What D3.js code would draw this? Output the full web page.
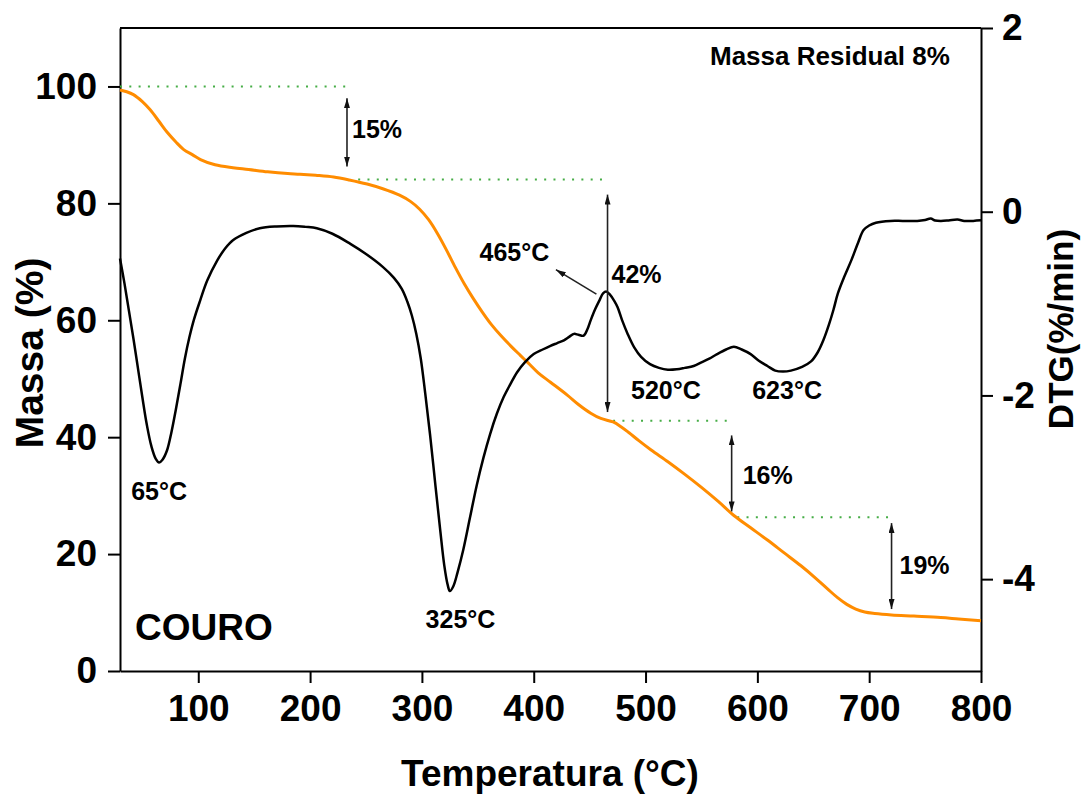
<!DOCTYPE html>
<html>
<head>
<meta charset="utf-8">
<script src="https://cdn.jsdelivr.net/npm/d3@7"></script>
<style>
  html, body { margin: 0; padding: 0; background: #fff; }
  svg { display: block; font-family: "Liberation Sans", Arial, Helvetica, sans-serif; font-weight: bold; }
</style>
</head>
<body>
<svg id="chart" width="1090" height="794"></svg>
<script>
// ---- data -------------------------------------------------------------
const temperatureTicks = [100, 200, 300, 400, 500, 600, 700, 800];
const massTicks = [0, 20, 40, 60, 80, 100];
const dtgTicks = [-4, -2, 0, 2];

// TGA curve: [temperature °C, mass %]
const tgaCurve = [
  [30, 99.4], [36, 99.1], [42, 98.6], [50, 97.4], [57, 96.0], [65, 94.0], [72, 92.2],
  [80, 90.5], [87, 89.2], [95, 88.3], [102, 87.5], [115, 86.6], [131, 86.1], [145, 85.8],
  [162, 85.4], [180, 85.1], [191, 85.0], [205, 84.8], [221, 84.5], [235, 84.0], [251, 83.3],
  [265, 82.5], [280, 81.4], [290, 80.3], [298, 79.0], [306, 77.2], [314, 74.8], [322, 72.0],
  [330, 69.0], [338, 66.2], [346, 63.7], [354, 61.4], [362, 59.3], [371, 57.3], [380, 55.5],
  [388, 54.0], [395, 52.7], [404, 51.0], [415, 49.4], [430, 47.2], [440, 45.6], [451, 44.1],
  [460, 43.2], [471, 42.6], [478, 41.8], [485, 40.8], [494, 39.4], [505, 37.8], [520, 35.8],
  [534, 33.8], [550, 31.4], [565, 29.0], [579, 26.6], [594, 24.5], [609, 22.4], [624, 20.2],
  [639, 18.0], [652, 15.9], [663, 14.0], [672, 12.5], [680, 11.4], [688, 10.6], [696, 10.1],
  [705, 9.85], [720, 9.6], [740, 9.4], [764, 9.15], [780, 8.9], [800, 8.6]
];

// DTG curve: [temperature °C, %/min]
const dtgCurve = [
  [30, -0.51], [34, -0.78], [38, -1.08], [42, -1.38], [46, -1.70], [50, -2.02], [54, -2.32],
  [58, -2.55], [62, -2.69], [65, -2.73], [68, -2.70], [72, -2.60], [76, -2.40], [80, -2.15],
  [84, -1.88], [88, -1.60], [92, -1.37], [96, -1.18], [101.6, -0.97], [108, -0.75],
  [117, -0.53], [124, -0.40], [131, -0.31], [143, -0.23], [155, -0.18], [170, -0.16],
  [185, -0.155], [196, -0.165], [206, -0.18], [220, -0.24], [236, -0.35], [250, -0.46],
  [265, -0.60], [275, -0.72], [282, -0.84], [287, -0.98], [291, -1.13], [295, -1.33],
  [299, -1.60], [303, -1.98], [307.5, -2.45], [312, -2.97], [316.5, -3.48], [320, -3.85],
  [323, -4.06], [325, -4.13], [328, -4.08], [332, -3.92], [337, -3.68], [343, -3.33],
  [349, -2.98], [355, -2.68], [361, -2.42], [367, -2.20], [373, -2.02], [379, -1.88],
  [385, -1.75], [392, -1.64], [400, -1.55], [408, -1.50], [415, -1.46], [421, -1.43],
  [427, -1.40], [432, -1.36], [436, -1.33], [440, -1.34], [444.6, -1.35], [448, -1.28],
  [451, -1.18], [455, -1.06], [459, -0.96], [462, -0.89], [465, -0.87], [468, -0.90],
  [472, -0.97], [475, -1.04], [479, -1.18], [484, -1.33], [490, -1.48], [496, -1.58],
  [504, -1.66], [512, -1.70], [520, -1.72], [528, -1.715], [535, -1.70], [543, -1.68],
  [550, -1.64], [557, -1.60], [564, -1.55], [572, -1.50], [579, -1.47], [586, -1.50],
  [594, -1.55], [601, -1.62], [609, -1.68], [616, -1.73], [623, -1.74], [630, -1.73],
  [640, -1.69], [648, -1.63], [654, -1.53], [659, -1.40], [664, -1.23], [668, -1.07],
  [672, -0.89], [678, -0.70], [684, -0.53], [690, -0.34], [695, -0.20], [700, -0.15],
  [706, -0.12], [719, -0.10], [730, -0.10], [743, -0.10], [750, -0.09], [755, -0.075],
  [759, -0.095], [764, -0.10], [771, -0.095], [779, -0.086], [785, -0.10], [793, -0.10],
  [800, -0.094]
];

// DTG peak temperatures (°C) and the DTG value at each peak
const peakTemps = [65, 325, 465, 520, 623];
const peakValues = [-2.73, -4.13, -0.87, -1.72, -1.74];

// mass-loss steps: label, reference level lines and the span of each arrow
const stepLabels = ["15%", "42%", "16%", "19%"];
const levelMass = [100, 84.1, 42.8, 26.3];
const levelFrom = [30, 243, 471, 582];
const levelTo = [233, 462, 574, 719];
const arrowTemps = [233, 466, 577, 720];
const arrowTop = [98.0, 81.5, 40.3, 25.3];
const arrowBottom = [86.3, 44.3, 27.3, 10.6];

const residualLabel = "Massa Residual 8%";
const sampleLabel = "COURO";

// ---- layout -----------------------------------------------------------
const plot = { left: 120, right: 981, top: 28, bottom: 671 };
const fontTick = 37, fontTitle = 37, fontNote = 25;

const svg = d3.select("#chart");

const x = d3.scaleLinear().domain([30, 800]).range([plot.left, plot.right]);
const yMass = d3.scaleLinear().domain([0, 110]).range([plot.bottom, plot.top]);
const yDtg = d3.scaleLinear().domain([-5, 2]).range([plot.bottom, plot.top]);

// arrowhead marker
const defs = svg.append("defs");
defs.append("marker")
  .attr("id", "head")
  .attr("viewBox", "0 0 10 6")
  .attr("refX", 10).attr("refY", 3)
  .attr("markerWidth", 10).attr("markerHeight", 6)
  .attr("markerUnits", "userSpaceOnUse")
  .attr("orient", "auto-start-reverse")
  .append("path").attr("d", "M0,0 L10,3 L0,6 Z").attr("fill", "#111");

// ---- axes -------------------------------------------------------------
function styleAxis(g) {
  g.attr("font-family", null).attr("font-size", null);
  g.select(".domain").attr("stroke", "#000").attr("stroke-width", 2);
  g.selectAll(".tick line").attr("stroke", "#000").attr("stroke-width", 2);
  g.selectAll(".tick text")
    .attr("fill", "#000")
    .style("font-size", fontTick + "px")
    .style("font-weight", "bold");
}

svg.append("g")
  .attr("transform", `translate(0,${plot.bottom})`)
  .call(d3.axisBottom(x).tickValues(temperatureTicks).tickSize(12).tickPadding(12).tickSizeOuter(0))
  .call(styleAxis);

svg.append("g")
  .attr("transform", `translate(${plot.left},0)`)
  .call(d3.axisLeft(yMass).tickValues(massTicks).tickSize(12).tickPadding(11).tickSizeOuter(0))
  .call(styleAxis);

svg.append("g")
  .attr("transform", `translate(${plot.right},0)`)
  .call(d3.axisRight(yDtg).tickValues(dtgTicks).tickSize(12).tickPadding(9).tickSizeOuter(0)
    .tickFormat(d => String(d)))
  .call(styleAxis);

// top frame line
svg.append("line")
  .attr("x1", plot.left).attr("x2", plot.right)
  .attr("y1", plot.top).attr("y2", plot.top)
  .attr("stroke", "#000").attr("stroke-width", 2);

// axis titles
svg.append("text")
  .attr("x", 550).attr("y", 786)
  .attr("text-anchor", "middle")
  .style("font-size", fontTitle + "px")
  .text("Temperatura (°C)");

svg.append("text")
  .attr("transform", "translate(43,353) rotate(-90)")
  .attr("text-anchor", "middle")
  .style("font-size", "39px")
  .text("Massa (%)");

svg.append("text")
  .attr("transform", "translate(1073,329) rotate(-90)")
  .attr("text-anchor", "middle")
  .style("font-size", "35px")
  .text("DTG(%/min)");

// ---- reference levels ---------------------------------------------------
svg.append("g").selectAll("line")
  .data(levelMass)
  .join("line")
  .attr("x1", (d, i) => x(levelFrom[i]))
  .attr("x2", (d, i) => x(levelTo[i]))
  .attr("y1", d => yMass(d))
  .attr("y2", d => yMass(d))
  .attr("stroke", "#46ad46")
  .attr("stroke-width", 2)
  .attr("stroke-dasharray", "2 7.3");

// ---- curves -----------------------------------------------------------
const tgaLine = d3.line()
  .x(d => x(d[0])).y(d => yMass(d[1]))
  .curve(d3.curveCatmullRom.alpha(0.5));
const dtgLine = d3.line()
  .x(d => x(d[0])).y(d => yDtg(d[1]))
  .curve(d3.curveCatmullRom.alpha(0.5));

svg.append("path")
  .datum(tgaCurve)
  .attr("d", tgaLine)
  .attr("fill", "none")
  .attr("stroke", "#ff8c00")
  .attr("stroke-width", 3)
  .attr("stroke-linejoin", "round");

svg.append("path")
  .datum(dtgCurve)
  .attr("d", dtgLine)
  .attr("fill", "none")
  .attr("stroke", "#000")
  .attr("stroke-width", 2.5)
  .attr("stroke-linejoin", "round");

// ---- mass-loss arrows and labels -------------------------------------------
svg.append("g").selectAll("line")
  .data(arrowTemps)
  .join("line")
  .attr("x1", d => x(d)).attr("x2", d => x(d))
  .attr("y1", (d, i) => yMass(arrowTop[i]))
  .attr("y2", (d, i) => yMass(arrowBottom[i]))
  .attr("stroke", "#222")
  .attr("stroke-width", 1.6)
  .attr("marker-start", "url(#head)")
  .attr("marker-end", "url(#head)");

const stepOffset = [[5, 6], [4, -20], [11, 10.5], [8, 8]];
svg.append("g").selectAll("text")
  .data(stepLabels)
  .join("text")
  .attr("x", (d, i) => x(arrowTemps[i]) + stepOffset[i][0])
  .attr("y", (d, i) => yMass((arrowTop[i] + arrowBottom[i]) / 2) + stepOffset[i][1])
  .style("font-size", fontNote + "px")
  .text(d => d);

// ---- DTG peak labels --------------------------------------------------------
const peakOffset = [[0, 37.5], [10.6, 37], [-92, -31], [-2, 29], [4, 27.5]];
svg.append("g").selectAll("text")
  .data(peakTemps)
  .join("text")
  .attr("x", (d, i) => x(d) + peakOffset[i][0])
  .attr("y", (d, i) => yDtg(peakValues[i]) + peakOffset[i][1])
  .attr("text-anchor", "middle")
  .style("font-size", fontNote + "px")
  .text(d => `${d}°C`);

// pointer from the 465 °C label to its peak
const pk = peakTemps.indexOf(465);
svg.append("line")
  .attr("x1", x(peakTemps[pk]) - 10).attr("y1", yDtg(peakValues[pk]) + 2.5)
  .attr("x2", x(peakTemps[pk]) - 50.5).attr("y2", yDtg(peakValues[pk]) - 22)
  .attr("stroke", "#222")
  .attr("stroke-width", 1.6)
  .attr("marker-end", "url(#head)");

// ---- notes ------------------------------------------------------------
svg.append("text")
  .attr("x", 710).attr("y", 65)
  .style("font-size", "26px")
  .text(residualLabel);

svg.append("text")
  .attr("x", 135).attr("y", 640)
  .style("font-size", "37px")
  .text(sampleLabel);
</script>
</body>
</html>
